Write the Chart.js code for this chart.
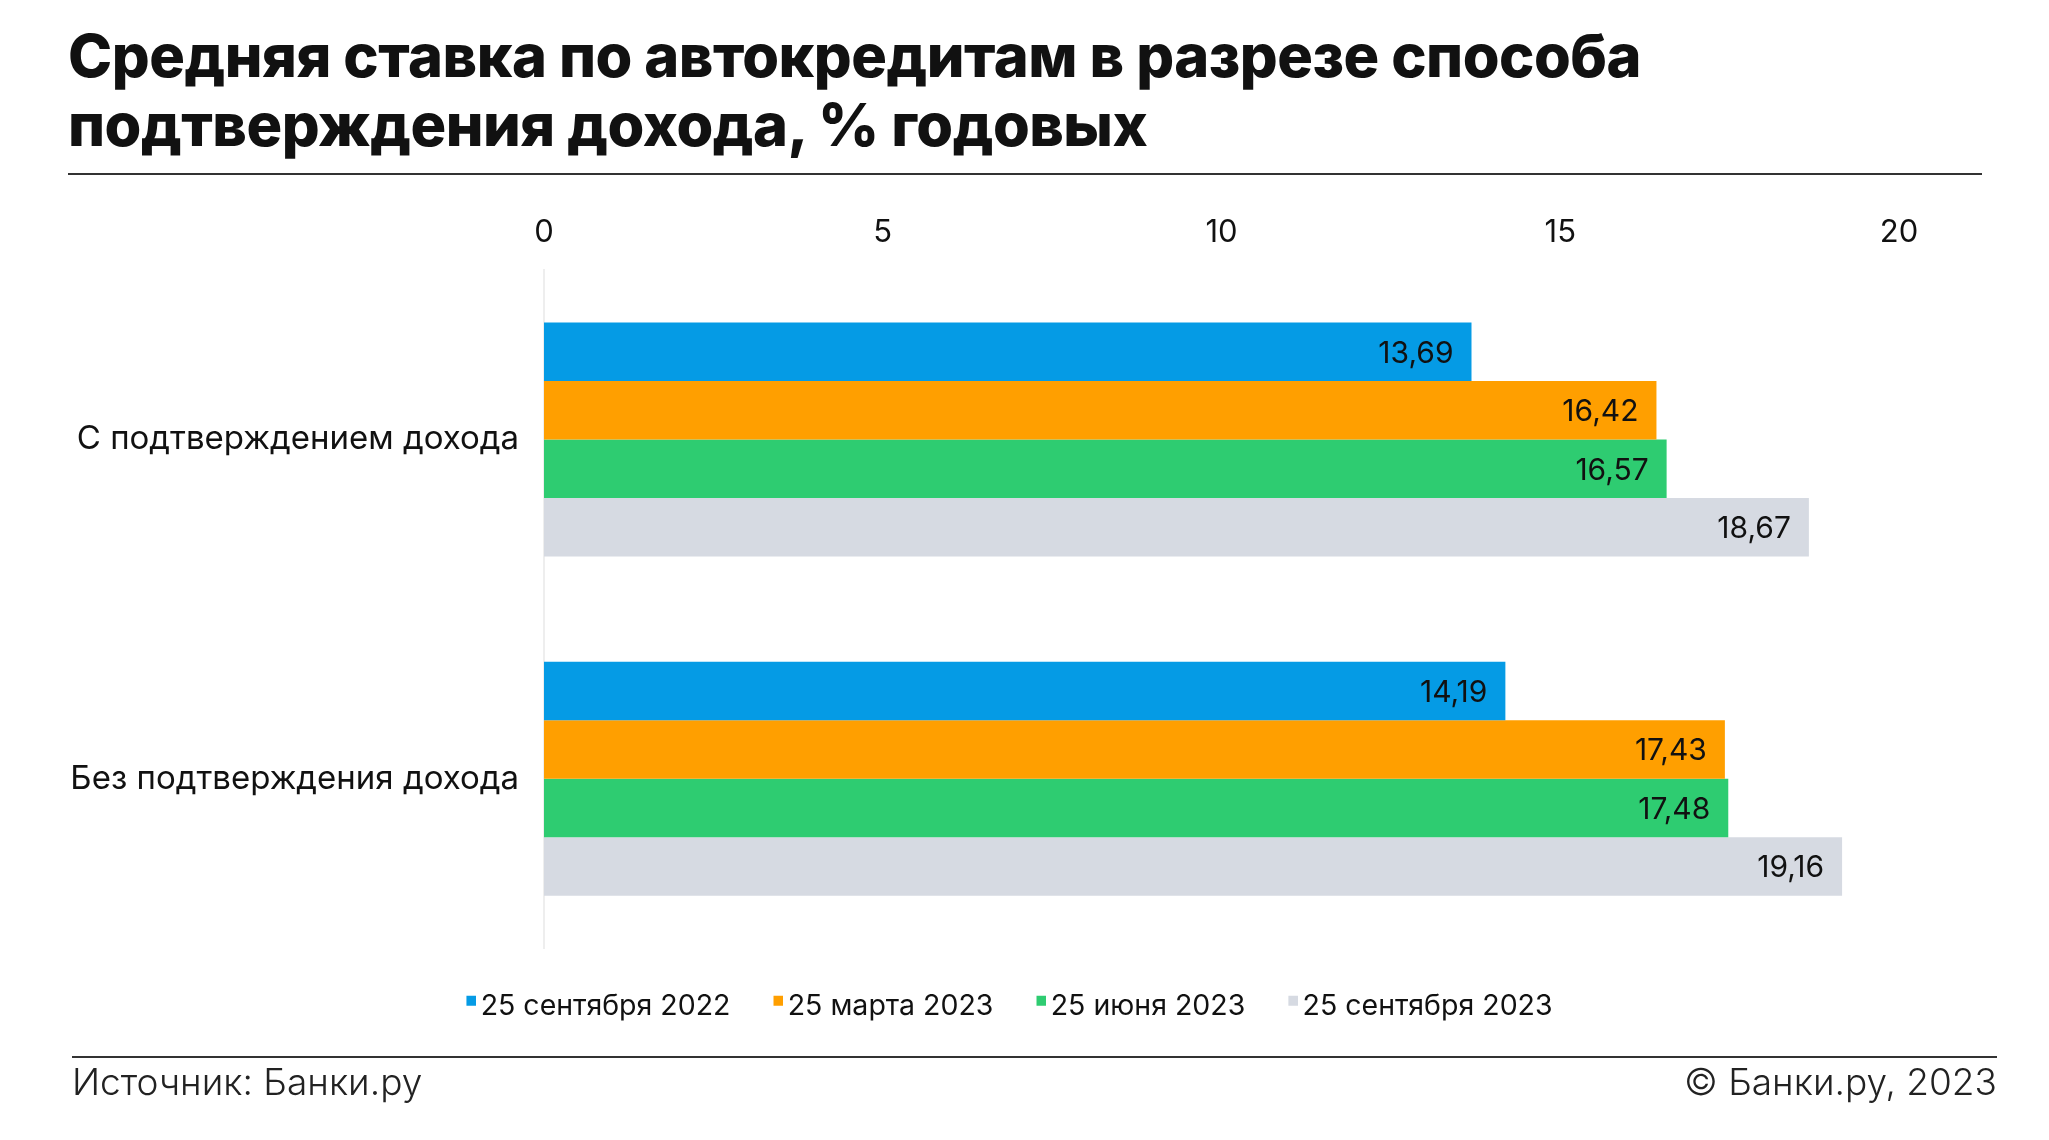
<!DOCTYPE html>
<html lang="ru">
<head>
    <meta charset="UTF-8">
    <title>Средняя ставка по автокредитам</title>
    <style>
        body, html {
            margin: 0;
            padding: 0;
            width: 2049px;
            height: 1140px;
            background: #fff;
            font-family: Inter, "Noto Sans", sans-serif;
            overflow: hidden;
        }
        .title {
            position: absolute;
            left: 68px;
            top: 21px;
            font-size: 59.5px;
            font-weight: 800;
            line-height: 69px;
            color: #111;
            letter-spacing: -0.5px;
        }
        .rule {
            position: absolute;
            height: 2px;
            background: #333;
        }
        #chart {
            position: absolute;
            left: 0;
            top: 190px;
            width: 2049px;
            height: 870px;
        }
        .footer {
            position: absolute;
            top: 1059px;
            font-size: 37px;
            font-weight: 300;
            color: #222;
        }
    </style>
</head>
<body>

<div class="title">Средняя ставка по автокредитам в разрезе способа<br>подтверждения дохода, % годовых</div>
<div class="rule" style="left:68px; top:173px; width:1914px;"></div>

<div id="chart">
    <canvas id="myChart" width="2049" height="870"></canvas>
</div>

<div class="rule" style="left:72px; top:1056px; width:1925px;"></div>
<div class="footer" style="left:72px;">Источник: Банки.ру</div>
<div class="footer" style="right:52px;">© Банки.ру, 2023</div>

<script src="https://cdn.jsdelivr.net/npm/chart.js"></script>
<script type="text/javascript">
    // данные
    var categories = ['С подтверждением дохода', 'Без подтверждения дохода'];
    var seriesNames = ['25 сентября 2022', '25 марта 2023', '25 июня 2023', '25 сентября 2023'];
    var sep2022 = [13.69, 14.19];
    var mar2023 = [16.42, 17.43];
    var jun2023 = [16.57, 17.48];
    var sep2023 = [18.67, 19.16];
    var xTicks = [0, 5, 10, 15, 20];

    var colors = ['#059be5', '#ff9f00', '#2ecc71', '#d6dae2'];
    var seriesData = [sep2022, mar2023, jun2023, sep2023];
    var fontFamily = 'Inter, "Noto Sans", sans-serif';

    // маленький квадрат легенды, прижат к тексту и чуть выше центра
    function makeMarker(color) {
        var c = document.createElement('canvas');
        c.width = 30;
        c.height = 30;
        var g = c.getContext('2d');
        g.fillStyle = color;
        g.fillRect(20, 4, 10, 10);
        return c;
    }
    var markers = colors.map(makeMarker);

    // подписи значений внутри столбцов
    var valueLabels = {
        id: 'valueLabels',
        afterDatasetsDraw: function(chart) {
            var ctx = chart.ctx;
            ctx.save();
            ctx.font = '400 30px ' + fontFamily;
            ctx.fillStyle = '#111';
            ctx.textAlign = 'right';
            ctx.textBaseline = 'middle';
            chart.data.datasets.forEach(function(ds, i) {
                chart.getDatasetMeta(i).data.forEach(function(bar, j) {
                    ctx.fillText(ds.data[j].toFixed(2).replace('.', ','), bar.x - 18, bar.y + 2);
                });
            });
            ctx.restore();
        }
    };

    // сдвигаем легенду вправо, как в оригинале
    var legendShift = {
        id: 'legendShift',
        afterLayout: function(chart) {
            chart.legend.left += 55;
            chart.legend.right += 55;
        }
    };

    var ctx = document.getElementById('myChart').getContext('2d');
    window.myChart = new Chart(ctx, {
        type: 'bar',
        data: {
            labels: categories,
            datasets: seriesData.map(function(d, i) {
                return {
                    label: seriesNames[i],
                    data: d,
                    backgroundColor: colors[i],
                    categoryPercentage: 0.69,
                    barPercentage: 1.0
                };
            })
        },
        options: {
            indexAxis: 'y',
            responsive: false,
            animation: false,
            layout: {
                padding: { left: 0, right: 150, top: 0, bottom: 29 }
            },
            scales: {
                x: {
                    position: 'top',
                    min: 0,
                    max: 20,
                    afterBuildTicks: function(scale) {
                        scale.ticks = xTicks.map(function(v) { return { value: v }; });
                    },
                    afterFit: function(scale) { scale.height = 80; },
                    grid: { display: false, drawTicks: false },
                    border: { display: false },
                    ticks: {
                        padding: 19,
                        color: '#111',
                        font: { family: fontFamily, size: 31 }
                    }
                },
                y: {
                    afterFit: function(scale) { scale.width = 544; },
                    grid: { display: false, drawTicks: false },
                    border: { display: true, color: '#eeeeee', width: 2 },
                    ticks: {
                        padding: 25,
                        color: '#111',
                        font: { family: fontFamily, size: 33 }
                    }
                }
            },
            plugins: {
                legend: {
                    position: 'bottom',
                    title: {
                        display: true,
                        text: '',
                        font: { size: 1 },
                        padding: { top: 0, bottom: 10 }
                    },
                    labels: {
                        usePointStyle: true,
                        boxWidth: 10,
                        boxHeight: 10,
                        padding: 33,
                        color: '#111',
                        font: { family: fontFamily, size: 28.5 },
                        generateLabels: function(chart) {
                            var items = Chart.defaults.plugins.legend.labels.generateLabels(chart);
                            items.forEach(function(item, i) { item.pointStyle = markers[i]; });
                            return items;
                        }
                    }
                },
                tooltip: { enabled: false }
            }
        },
        plugins: [valueLabels, legendShift]
    });
</script>
</body>
</html>
